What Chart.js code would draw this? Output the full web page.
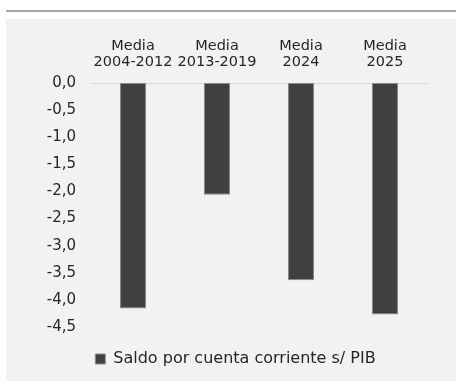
<!DOCTYPE html>
<html>
<head>
<meta charset="utf-8">
<script src="https://cdn.jsdelivr.net/npm/chart.js@4/dist/chart.umd.min.js"></script>
<style>
  html, body { margin: 0; padding: 0; background: #fff; }
  body { width: 456px; height: 381px; position: relative; overflow: hidden; }
  .topline { position: absolute; left: 6px; top: 10px; width: 450px; height: 2px; background: #a6a6a6; }
  .panel { position: absolute; left: 6px; top: 19px; width: 450px; height: 362px; background: #f2f2f2; }
  .panel canvas { display: block; }
</style>
</head>
<body>
<div class="topline"></div>
<div class="panel"><canvas id="c" width="450" height="362"></canvas></div>
<script>
// categorias y valores (% PIB)
const categories = [['Media', '2004-2012'], ['Media', '2013-2019'], ['Media', '2024'], ['Media', '2025']];
const saldo = [-4.16, -2.06, -3.64, -4.27];
const seriesName = 'Saldo por cuenta corriente s/ PIB';
const yMin = -4.5, yMax = 0, yStep = 0.5;

const FONT = 'DejaVu Sans';
const TXT = '#262626';

new Chart(document.getElementById('c').getContext('2d'), {
  type: 'bar',
  data: {
    labels: categories,
    datasets: [{
      label: seriesName,
      data: saldo,
      backgroundColor: '#404040',
      borderColor: '#8a8a8a',
      borderWidth: 1,
      borderSkipped: false,
      barPercentage: 0.62,
      categoryPercentage: 0.5,
    }],
  },
  options: {
    responsive: false, animation: false,
    // left padding pushes the legend centre right, as in the original
    layout: { padding: { left: 38, right: 29, top: 0, bottom: 4 } },
    plugins: {
      tooltip: { enabled: false },
      legend: {
        position: 'bottom',
        labels: {
          color: TXT, boxWidth: 10, boxHeight: 10, padding: 24,
          font: { family: FONT, size: 16 },
        },
      },
    },
    scales: {
      x: {
        position: 'top',
        grid: { display: false },
        border: { color: '#d9d9d9', width: 1 },
        ticks: {
          color: TXT, font: { family: FONT, size: 14.5, lineHeight: 1.15 },
          padding: 4, maxRotation: 0, autoSkip: false,
        },
        afterFit: s => { s.height = 64; },
      },
      y: {
        min: yMin, max: yMax,
        grid: { display: false },
        border: { display: false },
        ticks: {
          stepSize: yStep, color: TXT, padding: 7,
          font: { family: FONT, size: 15 },
          callback: v => v.toFixed(1).replace('.', ','),
        },
        afterFit: s => { s.width = 47; },
      },
    },
  },
});
</script>
</body>
</html>
